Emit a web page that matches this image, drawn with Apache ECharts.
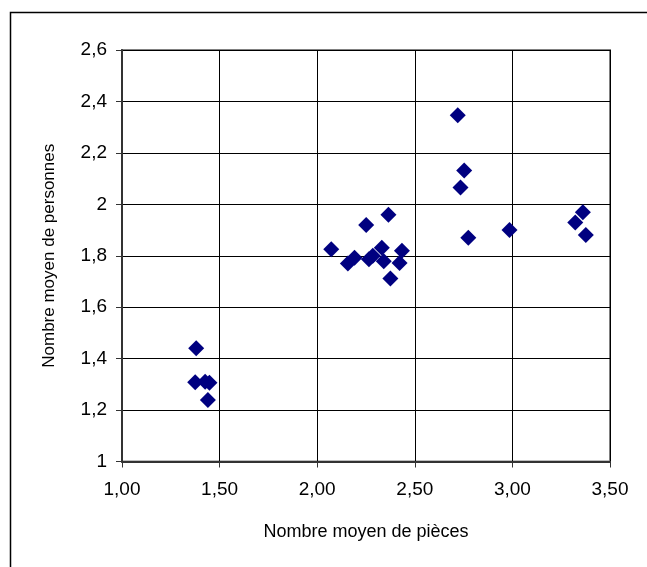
<!DOCTYPE html>
<html>
<head>
<meta charset="utf-8">
<style>
  html, body { margin: 0; padding: 0; background: #fff; }
  #chart { width: 647px; height: 567px; }
</style>
<script src="https://cdn.jsdelivr.net/npm/echarts@6/dist/echarts.min.js"></script>
</head>
<body>
<div id="chart"></div>
<script>
// Average number of rooms (x) vs. average number of persons (y)
const pieces = [
  1.380, 1.375, 1.426, 1.448, 1.440,
  2.072, 2.157, 2.191, 2.251, 2.265, 2.285, 2.331, 2.341, 2.365, 2.375, 2.422, 2.434,
  2.720, 2.734, 2.753, 2.774, 2.985,
  3.322, 3.361, 3.376
];
const personnes = [
  1.440, 1.308, 1.310, 1.306, 1.239,
  1.825, 1.770, 1.792, 1.920, 1.786, 1.800, 1.831, 1.779, 1.959, 1.712, 1.772, 1.819,
  2.346, 2.065, 2.131, 1.870, 1.900,
  1.929, 1.969, 1.881
];
const xTicks = [1.0, 1.5, 2.0, 2.5, 3.0, 3.5];
const yTicks = [1.0, 1.2, 1.4, 1.6, 1.8, 2.0, 2.2, 2.4, 2.6];

const points = pieces.map((p, i) => [p, personnes[i]]);
const font = 'Arial, "Liberation Sans", sans-serif';

const chart = echarts.init(document.getElementById('chart'), null, { renderer: 'canvas' });
chart.setOption({
  animation: false,
  backgroundColor: '#ffffff',
  graphic: [{
    type: 'rect',
    shape: { x: 10.5, y: 12.5, width: 700, height: 700 },
    style: { fill: 'none', stroke: '#000', lineWidth: 1.5 },
    z: -1
  }],
  grid: {
    left: 122, top: 50, right: 37, bottom: 105.5,
    show: true, borderColor: '#808080', borderWidth: 2, backgroundColor: 'transparent'
  },
  xAxis: {
    type: 'value',
    min: xTicks[0], max: xTicks[xTicks.length - 1], interval: 0.5,
    name: 'Nombre moyen de pièces',
    nameLocation: 'middle', nameGap: 62,
    nameTextStyle: { fontFamily: font, fontSize: 18, color: '#000' },
    axisLine: { show: true, onZero: false, lineStyle: { color: '#333', width: 2 } },
    axisTick: { show: true, inside: false, length: 6, lineStyle: { color: '#333' } },
    axisLabel: {
      margin: 19, fontFamily: font, fontSize: 19, color: '#000',
      formatter: v => v.toFixed(2).replace('.', ',')
    },
    splitLine: { show: true, lineStyle: { color: '#000', width: 1 } }
  },
  yAxis: {
    type: 'value',
    min: yTicks[0], max: yTicks[yTicks.length - 1], interval: 0.2,
    name: 'Nombre moyen de personnes',
    nameLocation: 'middle', nameGap: 64,
    nameTextStyle: { fontFamily: font, fontSize: 17, color: '#000' },
    axisLine: { show: true, onZero: false, lineStyle: { color: '#333', width: 2 } },
    axisTick: { show: true, inside: false, length: 6, lineStyle: { color: '#333' } },
    axisLabel: {
      margin: 15, fontFamily: font, fontSize: 19, color: '#000',
      formatter: v => {
        const r = Math.round(v * 10) / 10;
        return Number.isInteger(r) ? String(r) : r.toFixed(1).replace('.', ',');
      }
    },
    splitLine: { show: true, lineStyle: { color: '#000', width: 1 } }
  },
  series: [{
    type: 'scatter',
    data: points,
    symbol: 'diamond',
    symbolSize: [16, 16],
    itemStyle: { color: '#000080', opacity: 1 }
  }]
});
</script>
</body>
</html>
